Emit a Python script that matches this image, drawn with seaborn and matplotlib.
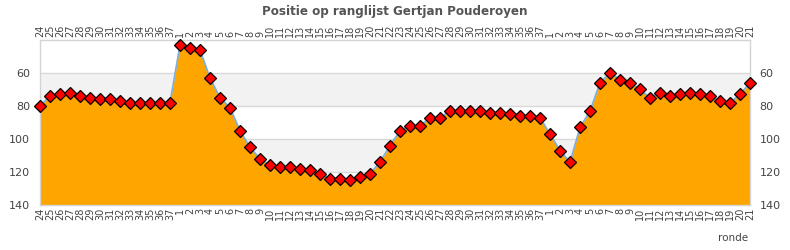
import matplotlib
matplotlib.use("Agg")
import matplotlib.pyplot as plt
import seaborn as sns
import pandas as pd

# --- data -------------------------------------------------------------
rondes_seizoen1 = ["24", "25", "26", "27", "28", "29", "30", "31", "32", "33",
                   "34", "35", "36", "37"]
posities_seizoen1 = [80, 74, 73, 72, 74, 75, 76, 76, 77, 78, 78, 78, 78, 78]

rondes_seizoen2 = ["1", "2", "3", "4", "5", "6", "7", "8", "9", "10",
                   "11", "12", "13", "14", "15", "16", "17", "18", "19", "20",
                   "21", "22", "23", "24", "25", "26", "27", "28", "29", "30",
                   "31", "32", "33", "34", "35", "36", "37"]
posities_seizoen2 = [43, 45, 46, 63, 75, 81, 95, 105, 112, 116,
                     117, 117, 118, 119, 121, 124, 124, 125, 123, 121,
                     114, 104, 95, 92, 92, 87, 87, 83, 83, 83,
                     83, 84, 84, 85, 86, 86, 87]

rondes_seizoen3 = ["1", "2", "3", "4", "5", "6", "7", "8", "9", "10",
                   "11", "12", "13", "14", "15", "16", "17", "18", "19", "20",
                   "21"]
posities_seizoen3 = [97, 107, 114, 93, 83, 66, 60, 64, 66, 70,
                     75, 72, 74, 73, 72, 73, 74, 77, 78, 73,
                     66]

y_ticks = [60, 80, 100, 120, 140]
title = "Positie op ranglijst Gertjan Pouderoyen"

rondes = rondes_seizoen1 + rondes_seizoen2 + rondes_seizoen3
posities = posities_seizoen1 + posities_seizoen2 + posities_seizoen3
df = pd.DataFrame({"i": list(range(len(rondes))), "ronde": rondes, "positie": posities})

# --- figure -----------------------------------------------------------
sns.set_style("white")
plt.rcParams["font.family"] = ["DejaVu Sans"]

fig = plt.figure(figsize=(7.9, 2.5), dpi=100)
ax = fig.add_axes([40 / 790, 45 / 250, 710 / 790, 165 / 250])

ymin, ymax = 40, 140
ax.axhspan(60, 80, color="#f2f2f2", zorder=0, lw=0)
ax.axhspan(100, 120, color="#f2f2f2", zorder=0, lw=0)
for yv in [60, 80, 100, 120]:
    ax.axhline(yv, color="#d9d9d9", lw=1, zorder=1)

ax.fill_between(df["i"], df["positie"], ymax, color="#FFA500", lw=0, zorder=2)
sns.lineplot(data=df, x="i", y="positie", ax=ax, color="#7aaee0", lw=1.2,
             marker="D", markersize=6.3, markerfacecolor="#ff0000",
             markeredgecolor="black", markeredgewidth=0.9, zorder=3,
             clip_on=False)

ax.set_xlim(0, len(rondes) - 1)
ax.set_ylim(ymax, ymin)
ax.set_yticks(y_ticks)
ax.set_xticks(df["i"])
ax.set_xticklabels(rondes, rotation=90)
ax.set_xlabel("")
ax.set_ylabel("")

ax.tick_params(axis="x", length=0, labeltop=True, labelbottom=True,
               labelsize=7, colors="#444444", pad=2)
ax.tick_params(axis="y", length=0, labelleft=True, labelright=True,
               labelsize=8, colors="#444444", pad=7)
for s in ax.spines.values():
    s.set_color("#d4d4d4")
    s.set_linewidth(1)

fig.text(0.5, 1 - 11 / 250, title, ha="center", va="center",
         fontsize=9.5, fontweight="bold", color="#555555", fontstretch="condensed")
fig.text(748 / 790, 1 - 238 / 250, "ronde", ha="right", va="center",
         fontsize=7.5, color="#444444")

fig.savefig("out.png", dpi=100)
